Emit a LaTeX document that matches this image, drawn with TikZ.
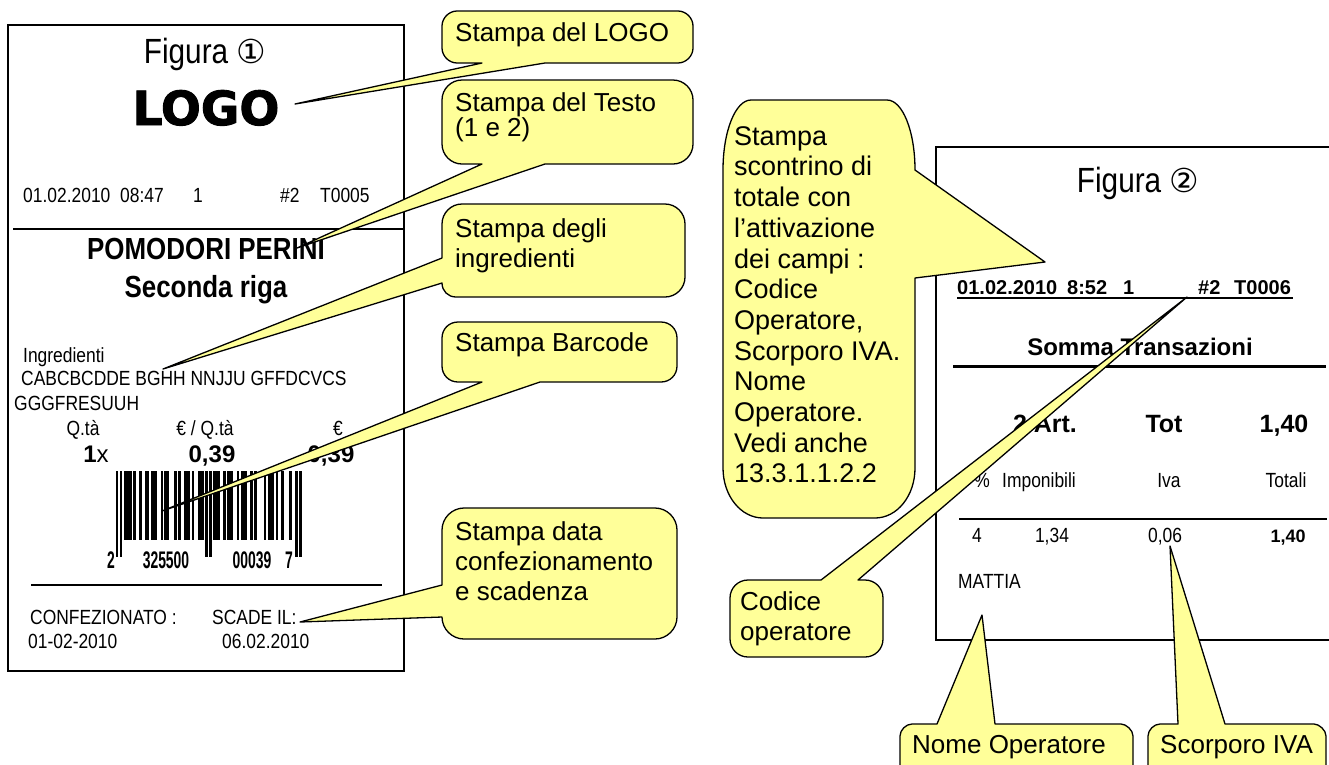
\documentclass[tikz,border=0pt]{standalone}
\usepackage{fontspec}
\setmainfont{Liberation Sans}
\newfontfamily\narrow[FakeStretch=0.85]{Liberation Sans}
\newfontfamily\bcfont[FakeStretch=0.58]{Liberation Sans}
\newfontfamily\dvs{DejaVu Sans}
\newfontfamily\logofont[FakeBold=2]{DejaVu Sans Bold}
\definecolor{cy}{RGB}{255,255,153}
\newcommand\tst{\rule{0pt}{21pt}}
\begin{document}
\begin{tikzpicture}[x=1pt,y=-1pt,
  rec/.style={draw=black,line width=1.4pt},
  rt/.style={inner sep=0pt,font=\narrow\fontsize{20.5}{24}\selectfont},
  rtb/.style={inner sep=0pt,font=\bfseries\fontsize{20}{24}\selectfont},
  big/.style={inner sep=0pt,font=\bfseries\fontsize{25}{28}\selectfont,anchor=base},
  num/.style={inner sep=0pt,font=\bfseries\fontsize{24}{28}\selectfont,anchor=base},
  head/.style={inner sep=0pt,font=\narrow\bfseries\fontsize{30.5}{34}\selectfont,anchor=base},
  bcd/.style={inner sep=0pt,font=\bcfont\bfseries\fontsize{24}{26}\selectfont,anchor=base},
  callout/.style={fill=cy,draw=black,line width=1.3pt,line join=round},
  ct/.style={anchor=north west,inner sep=0pt,align=left,font=\fontsize{26}{30}\selectfont}
]
\useasboundingbox (0,0) rectangle (1329,764);
\fill[white] (0,0) rectangle (1329,764);
\clip (0,0) rectangle (1329,764);

% ---------- left receipt ----------
\draw[rec] (8,25) rectangle (404,671);
\node[inner sep=0pt,anchor=base] (fig1) at (205,63)
  {{\narrow\fontsize{35}{40}\selectfont Figura }{\dvs\fontsize{33}{40}\selectfont ①}};
\node[inner sep=0pt,anchor=base,font=\logofont\fontsize{47}{50}\selectfont] (logo) at (206,125) {LOGO};
\node[rt,anchor=base west] (d1a) at (23,202) {01.02.2010};
\node[rt,anchor=base west] (d1b) at (120,202) {08:47};
\node[rt,anchor=base west] (d1c) at (193,202) {1};
\node[rt,anchor=base west] (d1d) at (280,202) {\#2};
\node[rt,anchor=base west] (d1e) at (320,202) {T0005};
\draw[line width=1.8pt] (13,229) -- (404,229);
\node[head] (pom) at (206,259) {POMODORI PERINI};
\node[head] (sec) at (206,297) {Seconda riga};
\node[rt,anchor=base west] (ing) at (23,362) {Ingredienti};
\node[rt,anchor=base west] (abc) at (21,385) {CABCBCDDE BGHH NNJJU GFFDCVCS};
\node[rt,anchor=base west] (ggg) at (14,410) {GGGFRESUUH};
\node[rt,anchor=base] (qta) at (83,435) {Q.tà};
\node[rt,anchor=base] (eqta) at (205,435) {€ / Q.tà};
\node[rt,anchor=base] (eur) at (338,435) {€};
\node[inner sep=0pt,anchor=base,font=\fontsize{24}{28}\selectfont] (qty) at (96,462) {\textbf{1}x};
\node[num] (pr1) at (212,462) {0,39};
\node[num] (pr2) at (331,462) {0,39};
% barcode
\foreach \s/\w in {4/4,9/1,12/1,15/2,18/3,23/1,25/2,30/1,32/1,35/3,39/1,42/3,50/3,55/1,57/3,62/1,64/3,69/1,71/1,76/1,78/3,82/1,85/1,89/1}
  \fill (115.7+\s*1.95,471) rectangle ++(\w*1.95+0.6,69);
\foreach \s in {0,2,46,48,92,94}
  \fill (115.7+\s*1.95,471) rectangle ++(2.5,86);
\node[bcd] (bc1) at (111,568) {2};
\node[bcd] (bc2) at (166,568) {325500};
\node[bcd] (bc3) at (252,568) {00039};
\node[bcd] (bc4) at (289,568) {7};
\draw[line width=1.4pt] (31,585) -- (382,585);
\node[rt,anchor=base west] (conf) at (30,624) {CONFEZIONATO :};
\node[rt,anchor=base west] (scad) at (212,624) {SCADE IL:};
\node[rt,anchor=base west] (dconf) at (28,648) {01-02-2010};
\node[rt,anchor=base west] (dscad) at (222,648) {06.02.2010};

% ---------- right receipt ----------
\draw[rec] (1335,147) -- (936,147) -- (936,640) -- (1335,640);
\node[inner sep=0pt,anchor=base] (fig2) at (1138,192)
  {{\narrow\fontsize{35}{40}\selectfont Figura }{\dvs\fontsize{33}{40}\selectfont ②}};
\node[rtb,anchor=base west] (d2a) at (957,294) {01.02.2010};
\node[rtb,anchor=base west] (d2b) at (1067,294) {8:52};
\node[rtb,anchor=base west] (d2c) at (1123,294) {1};
\node[rtb,anchor=base west] (d2d) at (1198,294) {\#2};
\node[rtb,anchor=base west] (d2e) at (1234,294) {T0006};
\draw[line width=1.4pt] (957,298) -- (1293,298);
\node[num] (somma) at (1140,355) {Somma Transazioni};
\draw[line width=3pt] (953,366) -- (1326,366);
\node[big] (art) at (1045,432) {2 Art.};
\node[big] (tot) at (1164,432) {Tot};
\node[big] (totv) at (1284,432) {1,40};
\node[rt,anchor=base] (perc) at (982,487) {\%};
\node[rt,anchor=base west] (impo) at (1002,487) {Imponibili};
\node[rt,anchor=base] (iva) at (1169,487) {Iva};
\node[rt,anchor=base] (totali) at (1286,487) {Totali};
\draw[line width=2pt] (959,519) -- (1327,519);
\node[rt,anchor=base] (v4) at (977,542) {4};
\node[rt,anchor=base] (v134) at (1052,542) {1,34};
\node[rt,anchor=base] (v006) at (1165,542) {0,06};
\node[inner sep=0pt,anchor=base,font=\bfseries\fontsize{18}{22}\selectfont] (v140) at (1288,542) {1,40};
\node[rt,anchor=base west] (mattia) at (958,588) {MATTIA};

% ---------- callout tips ----------
\coordinate (t1) at (295,104);
\coordinate (t2) at (297,248);
\coordinate (t3) at (163,369);
\coordinate (t4) at (162,511);
\coordinate (t5) at (300,622);
\coordinate (tb) at (1045,262);
\coordinate (tc) at (1187,297);
\coordinate (tn) at (982,615);
\coordinate (ts) at (1170,546);

% ---------- callout shapes ----------
\draw[callout] (457,11) -- (678,11) .. controls (686,11) and (693,18) .. (693,26) -- (693,48)
  .. controls (693,56) and (686,63) .. (678,63) -- (545,63) -- (t1) -- (482,63) -- (457,63)
  .. controls (449,63) and (442,56) .. (442,48) -- (442,26) .. controls (442,18) and (449,11) .. (457,11) -- cycle;
\draw[callout] (462,80) -- (673,80) .. controls (684,80) and (693,89) .. (693,100) -- (693,144)
  .. controls (693,155) and (684,164) .. (673,164) -- (545,164) -- (t2) -- (482,164) -- (462,164)
  .. controls (451,164) and (442,155) .. (442,144) -- (442,100) .. controls (442,89) and (451,80) .. (462,80) -- cycle;
\draw[callout] (462,204) -- (665,204) .. controls (676,204) and (685,213) .. (685,224) -- (685,277)
  .. controls (685,288) and (676,297) .. (665,297) -- (456,297) .. controls (448,297) and (442,291) .. (442,283)
  -- (t3) -- (442,258) -- (442,224) .. controls (442,213) and (451,204) .. (462,204) -- cycle;
\draw[callout] (458,322) -- (661,322) .. controls (670,322) and (677,329) .. (677,338) -- (677,366)
  .. controls (677,375) and (670,382) .. (661,382) -- (540,382) -- (t4) -- (482,382) -- (458,382)
  .. controls (449,382) and (442,375) .. (442,366) -- (442,338) .. controls (442,329) and (449,322) .. (458,322) -- cycle;
\draw[callout] (464,508) -- (655,508) .. controls (667,508) and (677,518) .. (677,530) -- (677,617)
  .. controls (677,629) and (667,639) .. (655,639) -- (464,639) .. controls (452,639) and (442,629) .. (442,617)
  -- (t5) -- (442,585) -- (442,530) .. controls (442,518) and (452,508) .. (464,508) -- cycle;
\draw[callout] (751,100) -- (887,100) .. controls (902.5,100) and (915,131) .. (915,170) -- (tb) -- (915,278)
  -- (915,468) .. controls (915,496) and (897,518) .. (875,518) -- (763,518)
  .. controls (741,518) and (723,496) .. (723,468) -- (723,170) .. controls (723,131) and (735.5,100) .. (751,100) -- cycle;
\draw[callout] (748,580) -- (821,580) -- (tc) -- (858,580) -- (865,580) .. controls (875,580) and (883,588) .. (883,598)
  -- (883,639) .. controls (883,649) and (875,657) .. (865,657) -- (748,657) .. controls (738,657) and (730,649) .. (730,639)
  -- (730,598) .. controls (730,588) and (738,580) .. (748,580) -- cycle;
\draw[callout] (912,724) -- (937,724) -- (tn) -- (995,724) -- (1121,724) .. controls (1126,724) and (1133,730) .. (1133,736)
  -- (1133,778) .. controls (1133,784) and (1126,790) .. (1121,790) -- (912,790) .. controls (906,790) and (900,784) .. (900,778)
  -- (900,736) .. controls (900,730) and (906,724) .. (912,724) -- cycle;
\draw[callout] (1160,724) -- (1178,724) -- (ts) -- (1225,724) -- (1314,724) .. controls (1319,724) and (1326,730) .. (1326,736)
  -- (1326,778) .. controls (1326,784) and (1319,790) .. (1314,790) -- (1160,790) .. controls (1154,790) and (1148,784) .. (1148,778)
  -- (1148,736) .. controls (1148,730) and (1154,724) .. (1160,724) -- cycle;

% ---------- callout texts ----------
\node[ct] (c1) at (455,20) {\tst Stampa del LOGO};
\node[ct,font=\fontsize{26}{25}\selectfont] (c2) at (455,90) {\tst Stampa del Testo\\(1 e 2)};
\node[ct] (c3) at (455,216) {\tst Stampa degli\\ingredienti};
\node[ct] (c4) at (455,330) {\tst Stampa Barcode};
\node[ct] (c5) at (455,519) {\tst Stampa data\\confezionamento\\e scadenza};
\node[ct,font=\fontsize{27}{30.7}\selectfont] (cb) at (734,124)
  {\tst Stampa\\scontrino di\\totale con\\l’attivazione\\dei campi :\\Codice\\Operatore,\\Scorporo IVA.\\Nome\\Operatore.\\Vedi anche\\13.3.1.1.2.2};
\node[ct] (cc) at (740,589) {\tst Codice\\operatore};
\node[ct] (cn) at (912,732) {\tst Nome Operatore};
\node[ct] (cs) at (1160,732) {\tst Scorporo IVA};
\end{tikzpicture}
\end{document}
